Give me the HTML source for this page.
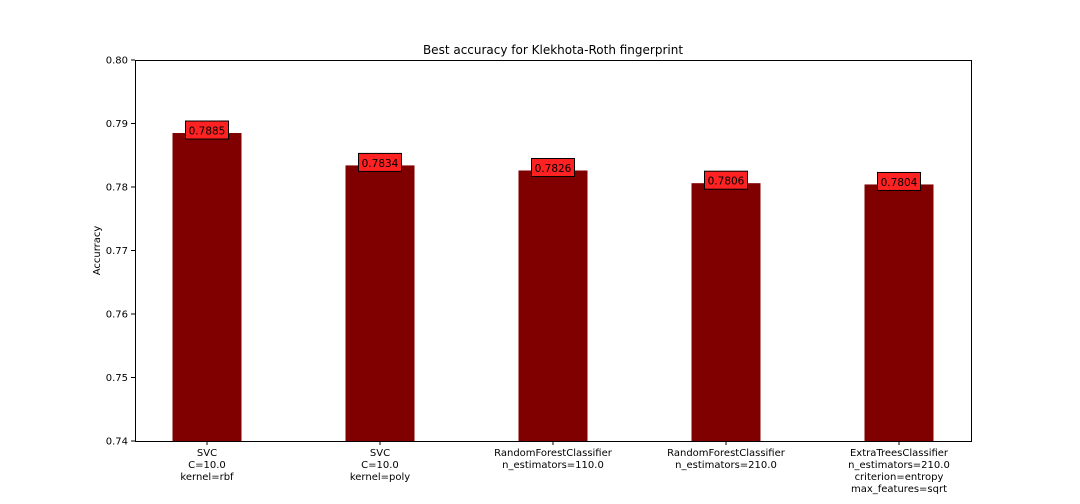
<!DOCTYPE html>
<html><head><meta charset="utf-8"><style>
body{margin:0;background:#fff;}
svg{display:block;font-family:"DejaVu Sans","Liberation Sans",sans-serif;}
</style></head><body>
<svg id="c" width="1080" height="504"></svg>
<script>
const categories=[["SVC","C=10.0","kernel=rbf"],["SVC","C=10.0","kernel=poly"],["RandomForestClassifier","n_estimators=110.0"],["RandomForestClassifier","n_estimators=210.0"],["ExtraTreesClassifier","n_estimators=210.0","criterion=entropy","max_features=sqrt"]];
const values=[0.7885,0.7834,0.7826,0.7806,0.7804];
const valueLabels=["0.7885","0.7834","0.7826","0.7806","0.7804"];
const yTicks=[0.74,0.75,0.76,0.77,0.78,0.79,0.80];
const yTickLabels=["0.74","0.75","0.76","0.77","0.78","0.79","0.80"];
const L=135,R=971,T=60,B=441,yMin=0.74,yMax=0.80;
const NS="http://www.w3.org/2000/svg",svg=document.getElementById('c');
function y(v){return B-(v-yMin)/(yMax-yMin)*(B-T);}
const step=(R-L)/categories.length;
function x(i){return L+step*(i+0.5)-5*(2-i)*0+ (i-2)*(173-step);}
function mk(t,a,p){const e=document.createElementNS(NS,t);for(const k in a)e.setAttribute(k,a[k]);(p||svg).appendChild(e);return e;}
const bw=69;
values.forEach((v,i)=>{
  const cx=x(i);
  const b=mk('rect',{x:cx-bw/2,y:y(v),width:bw,height:B-y(v),fill:'#800000'});
  
  
  const lbl=mk('rect',{x:cx-21.5,y:y(v)-12,width:43,height:18,fill:'#f22',stroke:'#000','stroke-width':1});
  
  
  const t=mk('text',{x:cx,y:y(v)+1.5,'text-anchor':'middle','font-size':10.5,fill:'#000'});
  t.textContent=valueLabels[i];
  
  
  mk('line',{x1:cx,x2:cx,y1:B,y2:B+4,stroke:'#000'});
  categories[i].forEach((s,j)=>{
    const tt=mk('text',{x:cx,y:B+15+j*12,'text-anchor':'middle','font-size':10,fill:'#000'});
    tt.textContent=s;
    
    
  });
});
yTicks.forEach((v,i)=>{
  mk('line',{x1:L-4,x2:L,y1:y(v),y2:y(v),stroke:'#000'});
  const t=mk('text',{x:L-7,y:y(v)+3.5,'text-anchor':'end','font-size':10,fill:'#000'});
  t.textContent=yTickLabels[i];
  
  
});
const fr=mk('rect',{x:L+0.5,y:T+0.5,width:R-L,height:B-T,fill:'none',stroke:'#000','stroke-width':1});


const ti=mk('text',{x:(L+R)/2,y:T-6,'text-anchor':'middle','font-size':12,fill:'#000'});
ti.textContent='Best accuracy for Klekhota-Roth fingerprint';


const yl=mk('text',{x:0,y:0,'text-anchor':'middle','font-size':10,fill:'#000',transform:`translate(100,${(T+B)/2}) rotate(-90)`});
yl.textContent='Accurracy';


</script>
</body></html>
